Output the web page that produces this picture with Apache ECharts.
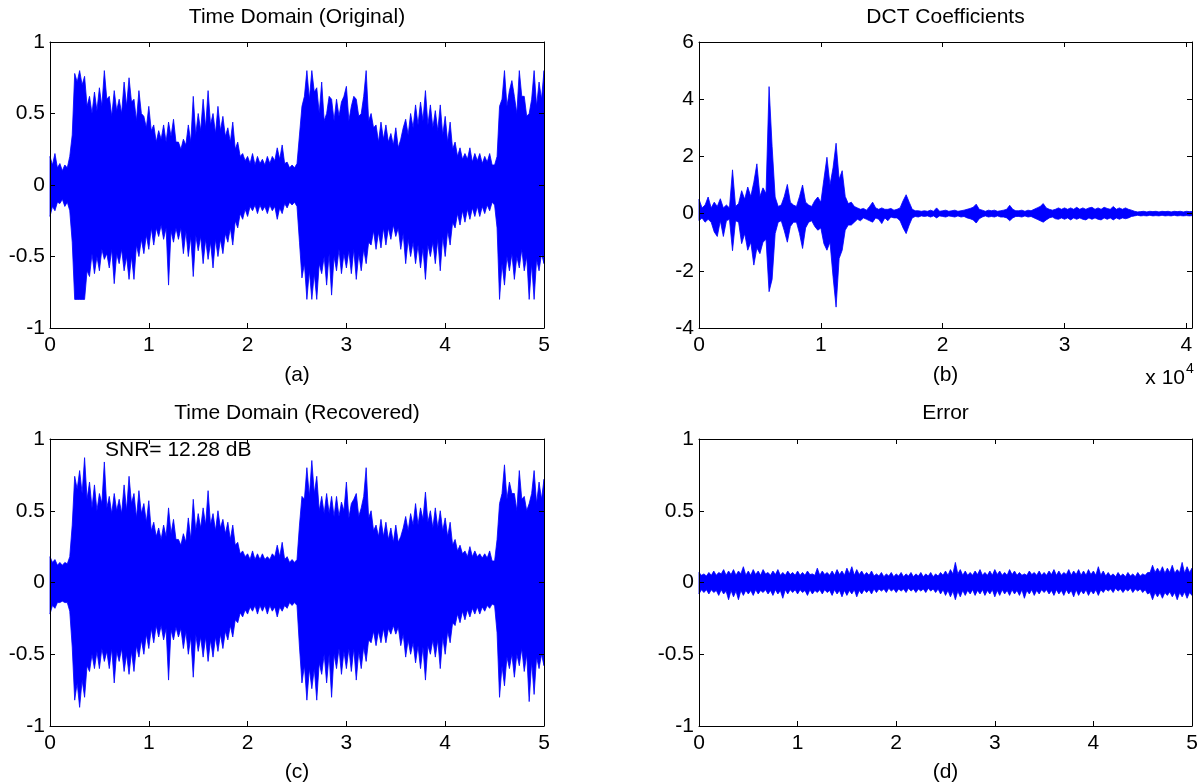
<!DOCTYPE html>
<html>
<head>
<meta charset="utf-8">
<script src="https://cdn.jsdelivr.net/npm/echarts@6/dist/echarts.min.js"></script>
<style>
html,body{margin:0;padding:0;background:#fff;}
#chart{width:1202px;height:784px;}
</style>
</head>
<body>
<div id="chart"></div>
<script>
// ---------------- DATA (column max / min) ----------------
const T_STEP = 0.025;     // seconds between readings, plots (a), (c), (d)
const T_MAX = 5;
const B_STEP = 250;       // DCT coefficient index between readings, plot (b)
const B_XMAX = 40460;

const xTicksTime = [0, 1, 2, 3, 4, 5];
const xTicksDct = [0, 1, 2, 3, 4];   // x 10^4

// (a) Time Domain (Original)
const aHi = [0.20,0.14,0.22,0.12,0.15,0.10,0.14,0.12,0.20,0.35,
  0.78,0.72,0.80,0.70,0.76,0.55,0.62,0.50,0.65,0.52,
  0.68,0.55,0.80,0.60,0.62,0.48,0.66,0.52,0.60,0.50,
  0.72,0.55,0.75,0.58,0.60,0.45,0.66,0.50,0.48,0.40,
  0.55,0.38,0.42,0.30,0.38,0.32,0.42,0.30,0.44,0.34,
  0.46,0.30,0.30,0.25,0.32,0.28,0.42,0.30,0.62,0.35,
  0.50,0.38,0.60,0.40,0.66,0.42,0.50,0.36,0.55,0.38,
  0.48,0.34,0.40,0.30,0.44,0.25,0.30,0.20,0.22,0.17,
  0.20,0.15,0.22,0.14,0.20,0.15,0.18,0.14,0.20,0.15,
  0.20,0.17,0.26,0.18,0.28,0.15,0.16,0.12,0.14,0.12,
  0.15,0.35,0.55,0.62,0.80,0.60,0.80,0.65,0.68,0.50,
  0.72,0.45,0.50,0.62,0.60,0.45,0.60,0.48,0.58,0.62,
  0.69,0.45,0.55,0.62,0.60,0.48,0.50,0.62,0.80,0.45,
  0.50,0.40,0.42,0.30,0.44,0.32,0.42,0.30,0.36,0.28,
  0.40,0.26,0.32,0.40,0.46,0.35,0.50,0.40,0.56,0.42,
  0.58,0.45,0.66,0.42,0.56,0.40,0.52,0.38,0.56,0.35,
  0.48,0.30,0.44,0.25,0.30,0.20,0.26,0.18,0.22,0.18,
  0.26,0.16,0.22,0.17,0.22,0.15,0.20,0.16,0.22,0.14,
  0.14,0.20,0.55,0.60,0.80,0.55,0.66,0.73,0.62,0.50,
  0.80,0.62,0.62,0.48,0.50,0.60,0.80,0.55,0.72,0.60,
  0.80];
const aLo = [-0.22,-0.15,-0.18,-0.12,-0.13,-0.10,-0.15,-0.12,-0.18,-0.40,
  -0.80,-0.80,-0.80,-0.80,-0.80,-0.60,-0.64,-0.48,-0.62,-0.50,
  -0.60,-0.45,-0.52,-0.48,-0.58,-0.45,-0.69,-0.48,-0.55,-0.45,
  -0.60,-0.50,-0.66,-0.50,-0.66,-0.42,-0.50,-0.38,-0.48,-0.35,
  -0.45,-0.30,-0.42,-0.30,-0.36,-0.28,-0.38,-0.30,-0.70,-0.32,
  -0.40,-0.30,-0.38,-0.30,-0.48,-0.32,-0.50,-0.36,-0.64,-0.35,
  -0.46,-0.36,-0.55,-0.38,-0.52,-0.40,-0.58,-0.38,-0.50,-0.38,
  -0.48,-0.34,-0.40,-0.30,-0.42,-0.25,-0.30,-0.20,-0.24,-0.17,
  -0.22,-0.15,-0.18,-0.14,-0.20,-0.14,-0.18,-0.15,-0.20,-0.14,
  -0.18,-0.15,-0.24,-0.16,-0.20,-0.13,-0.16,-0.12,-0.14,-0.12,
  -0.15,-0.40,-0.65,-0.55,-0.80,-0.60,-0.80,-0.62,-0.80,-0.55,
  -0.62,-0.50,-0.70,-0.48,-0.77,-0.50,-0.60,-0.45,-0.62,-0.48,
  -0.58,-0.46,-0.62,-0.45,-0.66,-0.48,-0.60,-0.45,-0.55,-0.40,
  -0.42,-0.32,-0.45,-0.33,-0.44,-0.30,-0.42,-0.30,-0.38,-0.28,
  -0.36,-0.30,-0.45,-0.34,-0.55,-0.38,-0.50,-0.40,-0.55,-0.42,
  -0.58,-0.44,-0.66,-0.42,-0.50,-0.40,-0.55,-0.38,-0.60,-0.36,
  -0.50,-0.32,-0.42,-0.26,-0.30,-0.20,-0.28,-0.18,-0.26,-0.17,
  -0.24,-0.16,-0.22,-0.15,-0.22,-0.15,-0.20,-0.14,-0.18,-0.12,
  -0.14,-0.30,-0.80,-0.55,-0.70,-0.50,-0.60,-0.48,-0.66,-0.50,
  -0.58,-0.45,-0.60,-0.50,-0.80,-0.55,-0.80,-0.52,-0.60,-0.48,
  -0.55];

// (b) DCT Coefficients
const bHi = [0.50,0.20,0.30,0.58,0.20,0.40,0.25,0.52,0.20,0.30,
  0.20,1.53,0.25,0.35,0.80,0.50,0.93,0.60,1.10,1.74,
  0.60,0.90,0.70,4.44,2.35,0.58,0.25,0.30,0.60,1.02,
  0.40,0.30,0.25,0.60,1.00,0.40,0.30,0.25,0.45,0.58,
  0.40,1.20,1.97,1.00,1.60,2.46,1.20,1.50,0.60,0.35,
  0.40,0.25,0.20,0.15,0.18,0.12,0.25,0.40,0.20,0.15,
  0.20,0.15,0.15,0.18,0.12,0.15,0.20,0.45,0.66,0.40,
  0.15,0.10,0.10,0.08,0.10,0.08,0.12,0.08,0.20,0.08,
  0.10,0.12,0.08,0.10,0.12,0.08,0.10,0.12,0.15,0.18,
  0.22,0.33,0.15,0.12,0.08,0.12,0.10,0.12,0.08,0.10,
  0.12,0.15,0.29,0.15,0.10,0.10,0.12,0.08,0.12,0.10,
  0.15,0.20,0.25,0.35,0.20,0.15,0.12,0.15,0.20,0.15,
  0.20,0.15,0.20,0.15,0.22,0.15,0.20,0.15,0.20,0.22,
  0.15,0.20,0.15,0.22,0.18,0.15,0.25,0.15,0.20,0.15,
  0.20,0.15,0.12,0.08,0.06,0.07,0.08,0.06,0.08,0.07,
  0.08,0.06,0.08,0.07,0.08,0.06,0.08,0.07,0.08,0.06,
  0.08,0.07,0.07];
const bLo = [-0.25,-0.15,-0.30,-0.20,-0.30,-0.64,-0.80,-0.25,-0.80,-0.25,
  -0.20,-1.30,-0.25,-0.30,-1.05,-0.70,-1.28,-1.00,-1.80,-1.20,
  -1.40,-1.00,-0.90,-2.73,-2.30,-0.70,-0.30,-0.25,-0.60,-1.00,
  -0.45,-0.30,-0.30,-0.70,-1.22,-0.50,-0.30,-0.25,-0.45,-0.58,
  -0.50,-1.05,-1.28,-1.00,-2.20,-3.27,-1.57,-1.28,-0.58,-0.40,
  -0.40,-0.30,-0.20,-0.25,-0.15,-0.20,-0.25,-0.30,-0.15,-0.20,
  -0.35,-0.15,-0.25,-0.12,-0.15,-0.15,-0.25,-0.50,-0.70,-0.40,
  -0.15,-0.10,-0.12,-0.08,-0.10,-0.08,-0.12,-0.08,-0.15,-0.08,
  -0.10,-0.12,-0.08,-0.10,-0.12,-0.08,-0.12,-0.10,-0.15,-0.18,
  -0.22,-0.33,-0.18,-0.12,-0.08,-0.12,-0.10,-0.12,-0.08,-0.12,
  -0.12,-0.15,-0.25,-0.15,-0.10,-0.10,-0.12,-0.08,-0.12,-0.10,
  -0.15,-0.20,-0.25,-0.30,-0.22,-0.15,-0.12,-0.18,-0.20,-0.15,
  -0.20,-0.15,-0.22,-0.15,-0.20,-0.15,-0.20,-0.22,-0.15,-0.20,
  -0.15,-0.20,-0.22,-0.15,-0.20,-0.15,-0.22,-0.15,-0.20,-0.15,
  -0.18,-0.15,-0.10,-0.08,-0.06,-0.08,-0.07,-0.08,-0.06,-0.08,
  -0.07,-0.08,-0.06,-0.08,-0.07,-0.08,-0.06,-0.08,-0.07,-0.08,
  -0.07,-0.08,-0.07];

// (c) Time Domain (Recovered)
const cHi = [0.18,0.14,0.16,0.12,0.14,0.12,0.14,0.13,0.18,0.40,
  0.74,0.65,0.78,0.62,0.87,0.58,0.70,0.52,0.68,0.50,
  0.62,0.55,0.84,0.52,0.60,0.48,0.62,0.50,0.58,0.48,
  0.68,0.50,0.74,0.55,0.62,0.45,0.64,0.48,0.55,0.42,
  0.57,0.36,0.42,0.32,0.38,0.30,0.40,0.32,0.52,0.34,
  0.44,0.30,0.30,0.26,0.34,0.28,0.45,0.30,0.58,0.36,
  0.48,0.38,0.52,0.40,0.64,0.40,0.48,0.36,0.50,0.38,
  0.44,0.34,0.42,0.30,0.40,0.26,0.28,0.20,0.22,0.18,
  0.20,0.16,0.22,0.16,0.20,0.16,0.20,0.16,0.18,0.16,
  0.20,0.18,0.26,0.18,0.28,0.16,0.18,0.14,0.16,0.14,
  0.16,0.40,0.60,0.58,0.80,0.60,0.85,0.62,0.74,0.50,
  0.60,0.48,0.62,0.48,0.60,0.46,0.60,0.46,0.56,0.50,
  0.70,0.45,0.55,0.58,0.62,0.46,0.52,0.60,0.80,0.45,
  0.50,0.36,0.40,0.32,0.44,0.32,0.42,0.30,0.38,0.28,
  0.40,0.28,0.32,0.38,0.46,0.36,0.48,0.40,0.55,0.40,
  0.52,0.44,0.63,0.42,0.50,0.38,0.52,0.38,0.50,0.36,
  0.45,0.32,0.42,0.26,0.30,0.22,0.26,0.20,0.22,0.18,
  0.25,0.18,0.22,0.18,0.20,0.17,0.20,0.17,0.22,0.15,
  0.15,0.30,0.55,0.62,0.82,0.58,0.70,0.62,0.62,0.50,
  0.78,0.58,0.60,0.50,0.55,0.62,0.78,0.55,0.70,0.58,
  0.72];
const cLo = [-0.22,-0.16,-0.18,-0.14,-0.14,-0.13,-0.14,-0.14,-0.20,-0.45,
  -0.82,-0.70,-0.87,-0.68,-0.80,-0.58,-0.62,-0.50,-0.60,-0.48,
  -0.60,-0.46,-0.55,-0.48,-0.60,-0.46,-0.70,-0.48,-0.55,-0.46,
  -0.62,-0.50,-0.64,-0.48,-0.62,-0.44,-0.52,-0.40,-0.50,-0.36,
  -0.46,-0.32,-0.42,-0.30,-0.38,-0.30,-0.40,-0.32,-0.68,-0.33,
  -0.40,-0.31,-0.38,-0.32,-0.46,-0.34,-0.50,-0.38,-0.66,-0.36,
  -0.48,-0.38,-0.52,-0.38,-0.55,-0.40,-0.52,-0.38,-0.48,-0.36,
  -0.46,-0.34,-0.40,-0.30,-0.38,-0.26,-0.28,-0.21,-0.24,-0.19,
  -0.22,-0.17,-0.20,-0.16,-0.22,-0.16,-0.20,-0.16,-0.22,-0.16,
  -0.20,-0.17,-0.24,-0.17,-0.20,-0.16,-0.18,-0.14,-0.16,-0.14,
  -0.16,-0.45,-0.70,-0.58,-0.82,-0.60,-0.74,-0.60,-0.82,-0.56,
  -0.64,-0.50,-0.70,-0.50,-0.80,-0.50,-0.60,-0.46,-0.64,-0.48,
  -0.60,-0.46,-0.62,-0.46,-0.68,-0.48,-0.60,-0.45,-0.55,-0.40,
  -0.42,-0.34,-0.44,-0.34,-0.42,-0.32,-0.42,-0.32,-0.36,-0.30,
  -0.36,-0.31,-0.44,-0.36,-0.52,-0.40,-0.50,-0.42,-0.56,-0.44,
  -0.60,-0.45,-0.68,-0.44,-0.50,-0.40,-0.52,-0.40,-0.60,-0.38,
  -0.50,-0.34,-0.42,-0.28,-0.30,-0.22,-0.28,-0.20,-0.26,-0.19,
  -0.24,-0.18,-0.22,-0.17,-0.22,-0.17,-0.20,-0.16,-0.18,-0.15,
  -0.16,-0.35,-0.80,-0.58,-0.72,-0.52,-0.60,-0.50,-0.66,-0.50,
  -0.58,-0.46,-0.62,-0.50,-0.83,-0.55,-0.78,-0.52,-0.60,-0.50,
  -0.58];

// (d) Error
const dHi = [0.07,0.05,0.06,0.045,0.07,0.05,0.08,0.05,0.07,0.06,
  0.09,0.05,0.08,0.055,0.09,0.05,0.08,0.06,0.11,0.05,
  0.08,0.05,0.09,0.055,0.08,0.05,0.09,0.06,0.07,0.05,
  0.08,0.055,0.09,0.05,0.07,0.05,0.08,0.055,0.07,0.05,
  0.08,0.05,0.07,0.05,0.08,0.055,0.06,0.05,0.10,0.05,
  0.08,0.055,0.07,0.05,0.08,0.05,0.09,0.055,0.08,0.05,
  0.10,0.06,0.11,0.05,0.09,0.055,0.08,0.05,0.07,0.05,
  0.08,0.045,0.06,0.045,0.07,0.04,0.06,0.045,0.07,0.04,
  0.06,0.045,0.07,0.04,0.06,0.045,0.07,0.04,0.06,0.045,
  0.07,0.04,0.06,0.045,0.07,0.04,0.06,0.045,0.07,0.05,
  0.08,0.05,0.09,0.06,0.14,0.06,0.09,0.05,0.08,0.05,
  0.07,0.05,0.08,0.055,0.09,0.05,0.07,0.05,0.08,0.05,
  0.09,0.055,0.08,0.05,0.07,0.05,0.09,0.055,0.08,0.05,
  0.07,0.05,0.06,0.05,0.08,0.055,0.07,0.05,0.08,0.05,
  0.07,0.05,0.08,0.055,0.09,0.05,0.08,0.05,0.07,0.055,
  0.09,0.05,0.08,0.055,0.09,0.05,0.08,0.05,0.09,0.055,
  0.08,0.05,0.11,0.05,0.08,0.045,0.07,0.045,0.06,0.04,
  0.07,0.045,0.06,0.04,0.07,0.045,0.06,0.04,0.07,0.045,
  0.06,0.05,0.07,0.07,0.12,0.07,0.10,0.07,0.11,0.065,
  0.10,0.07,0.12,0.065,0.09,0.07,0.14,0.065,0.11,0.07,
  0.10];
const dLo = [-0.08,-0.05,-0.07,-0.05,-0.08,-0.05,-0.07,-0.055,-0.09,-0.05,
  -0.08,-0.06,-0.12,-0.055,-0.10,-0.06,-0.12,-0.055,-0.09,-0.055,
  -0.08,-0.055,-0.09,-0.05,-0.08,-0.055,-0.07,-0.05,-0.08,-0.055,
  -0.09,-0.05,-0.08,-0.055,-0.11,-0.05,-0.08,-0.05,-0.07,-0.05,
  -0.08,-0.05,-0.07,-0.055,-0.09,-0.05,-0.08,-0.055,-0.07,-0.05,
  -0.08,-0.05,-0.07,-0.055,-0.09,-0.05,-0.08,-0.055,-0.10,-0.055,
  -0.09,-0.055,-0.08,-0.05,-0.10,-0.055,-0.08,-0.05,-0.07,-0.05,
  -0.08,-0.045,-0.07,-0.045,-0.06,-0.045,-0.07,-0.04,-0.06,-0.045,
  -0.07,-0.045,-0.06,-0.045,-0.07,-0.04,-0.06,-0.045,-0.07,-0.045,
  -0.06,-0.045,-0.07,-0.04,-0.06,-0.045,-0.07,-0.045,-0.08,-0.05,
  -0.09,-0.055,-0.10,-0.06,-0.12,-0.06,-0.10,-0.055,-0.09,-0.055,
  -0.08,-0.05,-0.09,-0.055,-0.08,-0.05,-0.09,-0.055,-0.08,-0.05,
  -0.10,-0.055,-0.09,-0.05,-0.08,-0.055,-0.09,-0.05,-0.08,-0.055,
  -0.09,-0.05,-0.11,-0.055,-0.08,-0.05,-0.09,-0.055,-0.08,-0.05,
  -0.07,-0.05,-0.08,-0.055,-0.09,-0.05,-0.08,-0.055,-0.09,-0.05,
  -0.08,-0.055,-0.10,-0.05,-0.09,-0.055,-0.08,-0.05,-0.09,-0.055,
  -0.08,-0.05,-0.09,-0.05,-0.07,-0.045,-0.06,-0.045,-0.07,-0.04,
  -0.06,-0.045,-0.07,-0.045,-0.06,-0.04,-0.07,-0.045,-0.06,-0.045,
  -0.07,-0.05,-0.08,-0.07,-0.12,-0.07,-0.10,-0.07,-0.11,-0.07,
  -0.09,-0.065,-0.10,-0.07,-0.12,-0.07,-0.10,-0.065,-0.11,-0.07,
  -0.09];

// ---------------- CHART ----------------
const BLUE = '#0000ff';
const FONT = "'Liberation Sans', Arial, sans-serif";
const FS = 21;

function rows(step, lo, hi, xmax) {
  return lo.map((v, i) => [Math.min(i * step, xmax), v, hi[i]]);
}

// one filled polygon: upper trace forward, lower trace backward
function waveSeries(idx, data) {
  return {
    type: 'custom', xAxisIndex: idx * 2, yAxisIndex: idx * 2, silent: true, z: 2,
    encode: { x: 0, y: [1, 2] }, data: data,
    renderItem: function (params, api) {
      if (params.dataIndexInside !== 0) return null;
      const n = params.dataInsideLength;
      const top = [], bot = [];
      for (let j = 0; j < n; j++) {
        const x = api.value(0, j);
        top.push(api.coord([x, api.value(2, j)]));
        bot.push(api.coord([x, api.value(1, j)]));
      }
      return { type: 'polygon', shape: { points: top.concat(bot.reverse()) },
        style: { fill: BLUE, stroke: BLUE, lineWidth: 0.8, lineJoin: 'bevel' } };
    }
  };
}

const grids = [
  { left: 50, top: 42, width: 494, height: 286 },
  { left: 699, top: 42, width: 493, height: 286 },
  { left: 50, top: 439, width: 494, height: 287 },
  { left: 699, top: 439, width: 493, height: 287 }
];

const axLine = { onZero: false, lineStyle: { color: '#000', width: 1 } };
const axTick = { inside: true, length: 5, lineStyle: { color: '#000', width: 1 } };
const axLabel = { color: '#000', fontSize: FS, fontFamily: FONT };

function xAxes(gi, min, max, interval, fmt) {
  return [
    { gridIndex: gi, type: 'value', position: 'bottom', min: min, max: max, interval: interval,
      axisLine: axLine, axisTick: axTick, splitLine: { show: false }, z: 10,
      axisLabel: Object.assign({ margin: 7, formatter: fmt }, axLabel) },
    { gridIndex: gi, type: 'value', position: 'top', min: min, max: max, interval: interval,
      axisLine: axLine, axisTick: axTick, splitLine: { show: false }, z: 10,
      axisLabel: { show: false } }
  ];
}
function yAxes(gi, min, max, interval) {
  return [
    { gridIndex: gi, type: 'value', position: 'left', min: min, max: max, interval: interval,
      axisLine: axLine, axisTick: axTick, splitLine: { show: false }, z: 10,
      axisLabel: Object.assign({ margin: 5 }, axLabel) },
    { gridIndex: gi, type: 'value', position: 'right', min: min, max: max, interval: interval,
      axisLine: axLine, axisTick: axTick, splitLine: { show: false }, z: 10,
      axisLabel: { show: false } }
  ];
}

const timeFmt = v => (xTicksTime.indexOf(v) >= 0 ? String(v) : '');
const dctFmt = v => (xTicksDct.indexOf(v / 10000) >= 0 ? String(v / 10000) : '');

const xAxis = [].concat(
  xAxes(0, 0, T_MAX, 1, timeFmt),
  xAxes(1, 0, B_XMAX, 10000, dctFmt),
  xAxes(2, 0, T_MAX, 1, timeFmt),
  xAxes(3, 0, T_MAX, 1, timeFmt)
);
const yAxis = [].concat(
  yAxes(0, -1, 1, 0.5),
  yAxes(1, -4, 6, 2),
  yAxes(2, -1, 1, 0.5),
  yAxes(3, -1, 1, 0.5)
);

const series = [
  waveSeries(0, rows(T_STEP, aLo, aHi, T_MAX)),
  waveSeries(1, rows(B_STEP, bLo, bHi, B_XMAX)),
  waveSeries(2, rows(T_STEP, cLo, cHi, T_MAX)),
  waveSeries(3, rows(T_STEP, dLo, dHi, T_MAX))
];

function txt(x, y, text, opts) {
  return {
    type: 'text', x: x, y: y, z: 100,
    style: Object.assign({ text: text, fill: '#000', font: FS + 'px ' + FONT,
      align: 'center', verticalAlign: 'middle', textAlign: 'center', textVerticalAlign: 'middle' }, opts || {})
  };
}

const graphic = [
  txt(297, 17, 'Time Domain (Original)'),
  txt(945.5, 17, 'DCT Coefficients'),
  txt(297, 413, 'Time Domain (Recovered)'),
  txt(945.5, 413, 'Error'),
  txt(297, 375, '(a)'),
  txt(945.5, 375, '(b)'),
  txt(297, 772, '(c)'),
  txt(945.5, 772, '(d)'),
  txt(105, 450, 'SNR= 12.28 dB', { align: 'left', textAlign: 'left' }),
  txt(1185, 378, 'x 10', { align: 'right', textAlign: 'right' }),
  txt(1186, 369, '4', { align: 'left', textAlign: 'left', font: '14px ' + FONT })
];

const chart = echarts.init(document.getElementById('chart'), null, { renderer: 'canvas' });
chart.setOption({
  backgroundColor: '#ffffff',
  animation: false,
  grid: grids,
  xAxis: xAxis,
  yAxis: yAxis,
  series: series,
  graphic: graphic
});
</script>
</body>
</html>
